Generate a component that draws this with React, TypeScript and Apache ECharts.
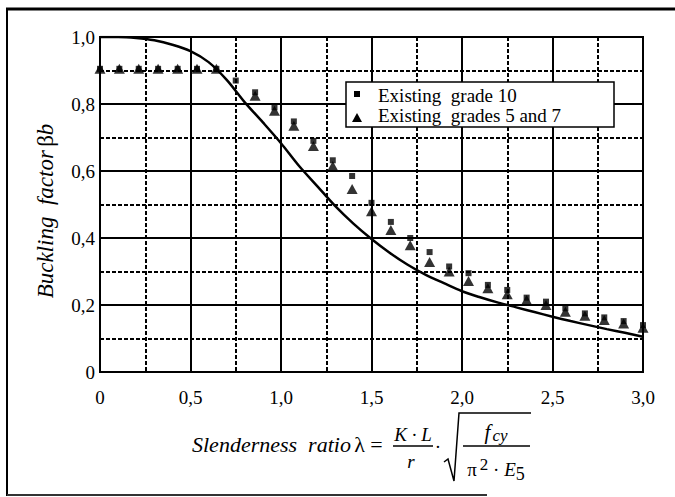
import React, { useEffect, useRef } from "react";
import * as echarts from "echarts";

// Slenderness ratio positions of the test points
const lambdaPts = [
  0, 0.107, 0.214, 0.321, 0.429, 0.536, 0.643, 0.75, 0.857, 0.964, 1.071, 1.179,
  1.286, 1.393, 1.5, 1.607, 1.714, 1.821, 1.929, 2.036, 2.143, 2.25, 2.357, 2.464,
  2.571, 2.679, 2.786, 2.893, 3.0,
];
// Existing grade 10 (squares)
const grade10 = [
  0.905, 0.905, 0.905, 0.905, 0.905, 0.905, 0.905, 0.87, 0.835, 0.79, 0.748, 0.69,
  0.632, 0.585, 0.505, 0.448, 0.4, 0.358, 0.315, 0.295, 0.26, 0.245, 0.222, 0.21,
  0.19, 0.175, 0.163, 0.152, 0.14,
];
// Existing grades 5 and 7 (triangles); "-" = no point
const grades57: (number | string)[] = [
  0.905, 0.905, 0.905, 0.905, 0.905, 0.905, 0.905, "-", 0.825, 0.78, 0.735, 0.675,
  0.615, 0.546, 0.48, 0.424, 0.378, 0.328, 0.3, 0.272, 0.25, 0.232, 0.215, 0.2,
  0.18, 0.168, 0.155, 0.145, 0.132,
];
// Design curve
const curveX = [
  0, 0.1, 0.2, 0.3, 0.4, 0.5, 0.6, 0.7, 0.8, 0.9, 1.0, 1.1, 1.2, 1.3, 1.4, 1.5, 1.6,
  1.7, 1.8, 1.9, 2.0, 2.1, 2.2, 2.3, 2.4, 2.5, 2.6, 2.7, 2.8, 2.9, 3.0,
];
const curveY = [
  1.0, 1.0, 0.997, 0.99, 0.977, 0.958, 0.925, 0.872, 0.805, 0.745, 0.683, 0.615,
  0.555, 0.495, 0.443, 0.397, 0.356, 0.32, 0.29, 0.265, 0.241, 0.223, 0.207, 0.193,
  0.179, 0.165, 0.152, 0.14, 0.128, 0.117, 0.105,
];
const xTicks = [0, 0.5, 1.0, 1.5, 2.0, 2.5, 3.0];
const yTicks = [0, 0.2, 0.4, 0.6, 0.8, 1.0];

const SERIF = "Liberation Serif";

const fmt = (v: number) => (v === 0 ? "0" : v.toFixed(1).replace(".", ","));

export default function App() {
  const ref = useRef<HTMLDivElement>(null);
  useEffect(() => {
    if (!ref.current) return;
    const chart = echarts.init(ref.current, undefined, { renderer: "svg" });
    const lbl = { fontFamily: SERIF, fontSize: 19, color: "#000" };
    const option: any = {
      animation: false,
      backgroundColor: "#fff",
      textStyle: { fontFamily: SERIF },
      grid: {
        left: 100,
        top: 37,
        width: 543,
        height: 335,
        show: true,
        borderColor: "#000",
        borderWidth: 2,
        backgroundColor: "transparent",
      },
      xAxis: {
        type: "value",
        min: xTicks[0],
        max: xTicks[xTicks.length - 1],
        interval: 0.5,
        axisLine: { show: true, lineStyle: { color: "#000", width: 2 } },
        axisTick: { show: false },
        minorTick: { show: false, splitNumber: 2 },
        axisLabel: { ...lbl, margin: 16, formatter: fmt },
        splitLine: { show: true, lineStyle: { color: "#000", width: 2 } },
        minorSplitLine: {
          show: true,
          lineStyle: { color: "#000", width: 2, type: [4, 2] },
        },
      },
      yAxis: {
        type: "value",
        min: yTicks[0],
        max: yTicks[yTicks.length - 1],
        interval: 0.2,
        axisLine: { show: true, lineStyle: { color: "#000", width: 2 } },
        axisTick: { show: false },
        minorTick: { show: false, splitNumber: 2 },
        axisLabel: { ...lbl, margin: 5, formatter: fmt },
        splitLine: { show: true, lineStyle: { color: "#000", width: 2 } },
        minorSplitLine: {
          show: true,
          lineStyle: { color: "#000", width: 2, type: [4, 2] },
        },
      },
      series: [
        {
          type: "line",
          name: "Design curve",
          data: curveX.map((x, i) => [x, curveY[i]]),
          smooth: 0.3,
          showSymbol: false,
          lineStyle: { color: "#000", width: 2.5 },
          z: 3,
        },
        {
          type: "scatter",
          name: "Existing grades 5 and 7",
          data: lambdaPts.map((x, i) => [x, grades57[i]]),
          symbol: "triangle",
          symbolSize: [11, 10],
          itemStyle: { color: "#000" },
          z: 4,
        },
        {
          type: "scatter",
          name: "Existing grade 10",
          data: lambdaPts.map((x, i) => [x, grade10[i]]),
          symbol: "rect",
          symbolSize: 6,
          itemStyle: { color: "#000" },
          z: 5,
        },
      ],
      graphic: [
        // outer frame
        { type: "line", shape: { x1: 6, y1: 9, x2: 675, y2: 9 }, style: { stroke: "#000", lineWidth: 3 } },
        { type: "line", shape: { x1: 7, y1: 8, x2: 7, y2: 496 }, style: { stroke: "#000", lineWidth: 2 } },
        { type: "line", shape: { x1: 7, y1: 495, x2: 487, y2: 495 }, style: { stroke: "#333", lineWidth: 2 } },
        // legend
        {
          type: "group",
          z: 100,
          children: [
            { type: "rect", shape: { x: 346, y: 82, width: 268, height: 45 }, style: { fill: "#fff", stroke: "#000", lineWidth: 1.5 }, z: 100 },
            { type: "rect", shape: { x: 354, y: 91, width: 6, height: 6 }, style: { fill: "#000" }, z: 101 },
            { type: "polygon", shape: { points: [[352, 122], [362, 122], [357, 113]] }, style: { fill: "#000" }, z: 101 },
            { type: "text", x: 378, y: 95, style: { text: "Existing  grade 10", font: `19px ${SERIF}`, fill: "#000", textVerticalAlign: "middle" }, z: 101 },
            { type: "text", x: 378, y: 115, style: { text: "Existing  grades 5 and 7", font: `19px ${SERIF}`, fill: "#000", textVerticalAlign: "middle" }, z: 101 },
          ],
        },
        // y-axis title
        {
          type: "text",
          x: 45,
          y: 211,
          rotation: Math.PI / 2,
          style: {
            text: "{i|Buckling  factor} {n|β}{i|b}",
            textAlign: "center",
            textVerticalAlign: "middle",
            fill: "#000",
            rich: {
              i: { font: `italic 23px ${SERIF}`, fill: "#000" },
              n: { font: `23px ${SERIF}`, fill: "#000" },
            },
          },
        },
        // x-axis title
        {
          type: "text",
          x: 192,
          y: 444,
          style: {
            text: "{i|Slenderness  ratio} {n|λ =}",
            textVerticalAlign: "middle",
            fill: "#000",
            rich: {
              i: { font: `italic 22px ${SERIF}`, fill: "#000" },
              n: { font: `22px ${SERIF}`, fill: "#000" },
            },
          },
        },
        { type: "text", x: 413, y: 434, style: { text: "K · L", font: `italic 19px ${SERIF}`, fill: "#000", textAlign: "center", textVerticalAlign: "middle" } },
        { type: "line", shape: { x1: 393, y1: 446, x2: 433, y2: 446 }, style: { stroke: "#000", lineWidth: 1.5 } },
        { type: "text", x: 411, y: 461, style: { text: "r", font: `italic 19px ${SERIF}`, fill: "#000", textAlign: "center", textVerticalAlign: "middle" } },
        { type: "text", x: 438, y: 446, style: { text: "·", font: `19px ${SERIF}`, fill: "#000", textAlign: "center", textVerticalAlign: "middle" } },
        { type: "polyline", shape: { points: [[444, 462], [448, 459], [454, 481], [459, 413], [531, 413]] }, style: { stroke: "#000", lineWidth: 1.5, fill: "none" } },
        {
          type: "text",
          x: 496,
          y: 432,
          style: {
            text: "{f|f}{s|cy}",
            textAlign: "center",
            textVerticalAlign: "middle",
            rich: {
              f: { font: `italic 21px ${SERIF}`, fill: "#000" },
              s: { font: `italic 17px ${SERIF}`, fill: "#000", padding: [6, 0, 0, 2] },
            },
          },
        },
        { type: "line", shape: { x1: 463, y1: 446, x2: 530, y2: 446 }, style: { stroke: "#000", lineWidth: 1.5 } },
        {
          type: "text",
          x: 496,
          y: 469,
          style: {
            text: "{n|π}{p|2}{n| · }{i|E}{b|5}",
            textAlign: "center",
            textVerticalAlign: "middle",
            rich: {
              n: { font: `19px ${SERIF}`, fill: "#000" },
              p: { font: `17px ${SERIF}`, fill: "#000", padding: [0, 0, 10, 3] },
              i: { font: `italic 19px ${SERIF}`, fill: "#000" },
              b: { font: `18px ${SERIF}`, fill: "#000", padding: [10, 0, 0, 0] },
            },
          },
        },
      ],
    };
    chart.setOption(option);
    return () => chart.dispose();
  }, []);
  return (
    <div
      ref={ref}
      style={{ position: "fixed", left: 0, top: 0, width: 675, height: 497 }}
    />
  );
}
